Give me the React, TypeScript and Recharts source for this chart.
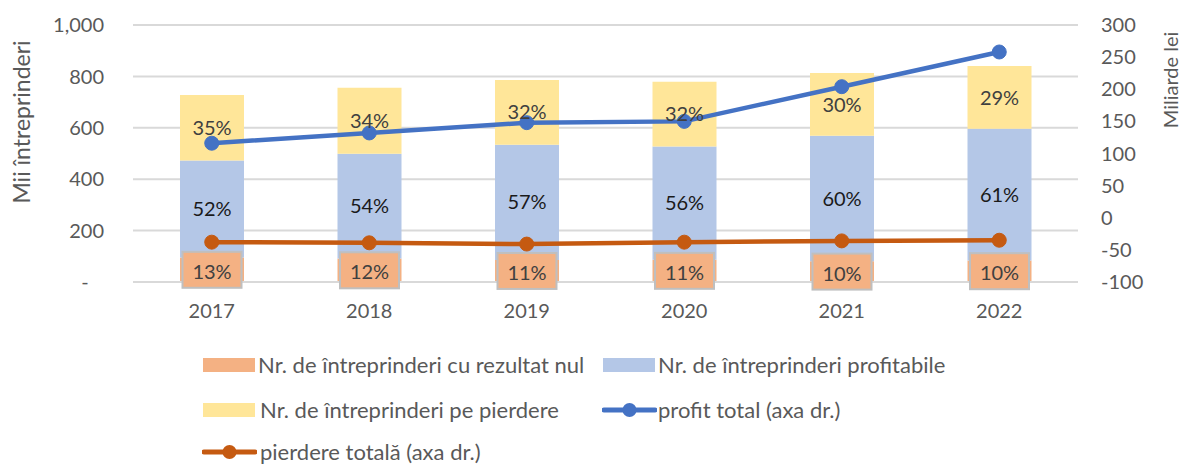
import {
  ComposedChart, Bar, Line, XAxis, YAxis, CartesianGrid, LabelList,
} from 'recharts'

const years = ['2017', '2018', '2019', '2020', '2021', '2022']
// mii intreprinderi
const zeroResult = [95, 91, 86, 87, 81, 84]
const profitable = [378, 408, 448, 440, 488, 512]
const lossMaking = [255, 257, 252, 252, 244, 244]
// miliarde lei
const totalProfit = [116, 132, 148, 150, 204, 258]
const totalLoss = [-38, -39, -41, -38, -36, -35]

const leftTicks = [0, 200, 400, 600, 800, 1000]
const rightTicks = [-100, -50, 0, 50, 100, 150, 200, 250, 300]

const seriesNames = [
  'Nr. de întreprinderi cu rezultat nul',
  'Nr. de întreprinderi profitabile',
  'Nr. de întreprinderi pe pierdere',
  'profit total (axa dr.)',
  'pierdere totală (axa dr.)',
]

const colors = ['#f4b183', '#b4c7e7', '#ffe699', '#4472c4', '#c55a11']

const pct = (v: number, i: number) =>
  Math.round((v / (zeroResult[i] + profitable[i] + lossMaking[i])) * 100) + '%'

const data = years.map((year, i) => ({
  year,
  zero: zeroResult[i],
  prof: profitable[i],
  loss: lossMaking[i],
  profit: totalProfit[i],
  lossTotal: totalLoss[i],
  pZero: pct(zeroResult[i], i),
  pProf: pct(profitable[i], i),
  pLoss: pct(lossMaking[i], i),
}))

const FONT = 'Lato, "Liberation Sans", sans-serif'

const ZeroLabel = (props: any) => {
  const { x, y, width, height, value } = props
  const cx = x + width / 2
  const cy = y + height / 2
  return (
    <g>
      <rect x={cx - 29.5} y={cy - 18} width={59} height={36} fill="#f4b183" stroke="#bfbfbf" strokeWidth={2} />
      <text x={cx} y={cy + 1} textAnchor="middle" dominantBaseline="central" fontSize={20} fill="#404040" fontFamily={FONT}>
        {value}
      </text>
    </g>
  )
}

// legend layout (pixel positions of swatch + text)
const legendPos = [
  { left: 203, top: 365, textX: 258 },
  { left: 603, top: 365, textX: 658 },
  { left: 203, top: 410, textX: 260 },
  { left: 602, top: 410, textX: 658 },
  { left: 202, top: 452, textX: 260 },
]

function LegendBlock() {
  return (
    <>
      {seriesNames.map((name, i) => {
        const p = legendPos[i]
        const isLine = i >= 3
        return (
          <div key={name}>
            {isLine ? (
              <svg style={{ position: 'absolute', left: p.left, top: p.top - 8 }} width={55} height={16}>
                <line x1={2} y1={8} x2={53} y2={8} stroke={colors[i]} strokeWidth={5} strokeLinecap="round" />
                <circle cx={27.5} cy={8} r={7} fill={colors[i]} />
              </svg>
            ) : (
              <div style={{ position: 'absolute', left: p.left, top: p.top - 7, width: 52, height: 14, background: colors[i] }} />
            )}
            <div style={{
              position: 'absolute', left: p.textX, top: p.top - 12, fontSize: 22, lineHeight: '23px',
              color: '#595959', fontFamily: FONT, whiteSpace: 'nowrap',
            }}>
              {name}
            </div>
          </div>
        )
      })}
    </>
  )
}

export default function App() {
  return (
    <div style={{ position: 'absolute', left: 0, top: 0, width: 1182, height: 465, background: '#fff', overflow: 'hidden' }}>
      <ComposedChart
        width={1182}
        height={465}
        data={data}
        margin={{ top: 25, right: 0, bottom: 143, left: 0 }}
        barCategoryGap={0}
        style={{ fontFamily: FONT }}
      >
        <CartesianGrid yAxisId="left" vertical={false} stroke="#d9d9d9" strokeWidth={2} />
        <XAxis
          dataKey="year"
          height={40}
          tickLine={false}
          axisLine={{ stroke: '#d9d9d9', strokeWidth: 2 }}
          tickSize={0}
          tickMargin={22}
          tick={{ fontSize: 20, fill: '#595959' }}
        />
        <YAxis
          yAxisId="left"
          width={133}
          domain={[0, 1000]}
          ticks={leftTicks}
          interval={0}
          axisLine={false}
          tickLine={false}
          tickSize={0}
          tickMargin={29}
          tick={{ fontSize: 20, fill: '#595959' }}
          tickFormatter={(v: number) => (v === 0 ? '-\u00a0\u00a0\u00a0' : v.toLocaleString('en-US'))}
          label={() => (
            <text
              x={30}
              y={122}
              transform="rotate(-90 30 122)"
              textAnchor="middle"
              fontSize={23}
              fill="#595959"
              fontFamily={FONT}
            >
              Mii întreprinderi
            </text>
          )}
        />
        <YAxis
          yAxisId="right"
          orientation="right"
          width={104}
          domain={[-100, 300]}
          ticks={rightTicks}
          interval={0}
          axisLine={false}
          tickLine={false}
          tickSize={0}
          tickMargin={23}
          tick={{ fontSize: 20, fill: '#595959', textAnchor: 'start' }}
          label={() => (
            <text
              x={1178}
              y={80}
              transform="rotate(-90 1178 80)"
              textAnchor="middle"
              fontSize={20}
              fill="#595959"
              fontFamily={FONT}
            >
              Miliarde lei
            </text>
          )}
        />
        <Bar yAxisId="left" dataKey="zero" stackId="a" fill={colors[0]} barSize={64} isAnimationActive={false}>
          <LabelList dataKey="pZero" content={ZeroLabel} />
        </Bar>
        <Bar yAxisId="left" dataKey="prof" stackId="a" fill={colors[1]} barSize={64} isAnimationActive={false}>
          <LabelList dataKey="pProf" position="center" fontSize={20} fill="#1a1a1a" />
        </Bar>
        <Bar yAxisId="left" dataKey="loss" stackId="a" fill={colors[2]} barSize={64} isAnimationActive={false}>
          <LabelList dataKey="pLoss" position="center" fontSize={20} fill="#404040" />
        </Bar>
        <Line
          yAxisId="right"
          dataKey="profit"
          stroke={colors[3]}
          strokeWidth={4.5}
          dot={{ r: 7, fill: colors[3], stroke: colors[3], strokeWidth: 1 }}
          isAnimationActive={false}
        />
        <Line
          yAxisId="right"
          dataKey="lossTotal"
          stroke={colors[4]}
          strokeWidth={4.5}
          dot={{ r: 7, fill: colors[4], stroke: colors[4], strokeWidth: 1 }}
          isAnimationActive={false}
        />
      </ComposedChart>
      <LegendBlock />
    </div>
  )
}
